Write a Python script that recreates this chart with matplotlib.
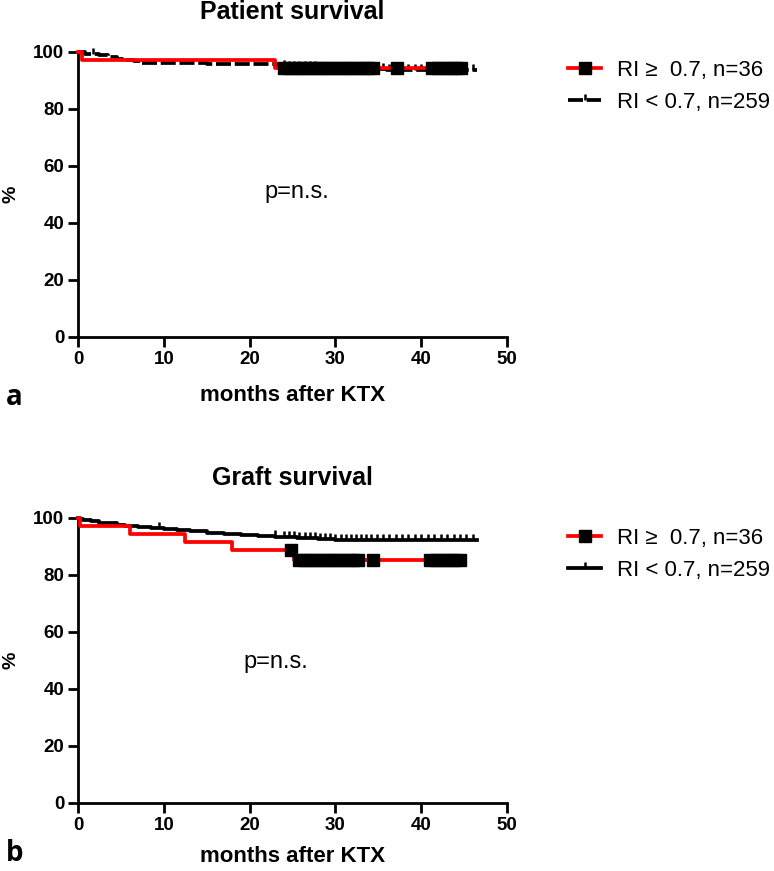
import numpy as np
import matplotlib
matplotlib.use('Agg')
import matplotlib.pyplot as plt
from matplotlib.lines import Line2D

plt.rcParams['font.family'] = ['Liberation Sans', 'DejaVu Sans']

# Kaplan-Meier step curves (months, % surviving)
pat_red_t = [0, 0.5, 23.0, 45.0]
pat_red_s = [100, 97.2, 94.4, 94.4]
pat_red_cens = [24.0, 24.7, 25.4, 26.1, 26.8, 27.5, 28.2, 28.9, 29.6, 30.3, 31.0,
                31.7, 32.4, 33.1, 33.8, 34.4, 37.2, 41.3, 42.0, 42.7, 43.4, 44.1, 44.6]

pat_blk_t = [0, 0.8, 2.5, 3.5, 4.5, 5.5, 6.5, 7.5, 15.0, 23.3, 24.5, 28.0, 36.0, 46.5]
pat_blk_s = [100, 99.2, 98.8, 98.4, 97.7, 97.3, 96.9, 96.1, 95.7, 95.0, 94.6, 94.2, 93.8, 93.8]
pat_blk_cens = [1.8, 24.0, 24.6, 25.2, 25.8, 26.4, 27.0, 27.6, 28.2, 28.8, 29.4, 30.0,
                30.6, 31.2, 31.8, 32.4, 33.0, 33.6, 34.2, 34.8, 35.5, 36.3, 37.0, 37.8,
                38.5, 39.3, 40.0, 40.8, 41.5, 42.3, 43.0, 43.8, 44.5, 45.2, 46.0]

gr_red_t = [0, 0.2, 6.1, 12.5, 17.9, 25.2, 45.0]
gr_red_s = [100, 97.2, 94.4, 91.7, 88.9, 85.4, 85.4]
gr_red_cens = [24.8, 25.8, 26.5, 27.2, 27.9, 28.6, 29.3, 30.0, 30.7, 31.4, 32.1, 32.6,
               34.4, 41.0, 41.7, 42.4, 43.1, 43.8, 44.5]

gr_blk_t = [0, 0.2, 0.6, 1.5, 2.5, 3.5, 4.5, 5.5, 7.0, 8.5, 10.0, 11.5, 13.0, 15.0,
            17.0, 19.0, 21.0, 23.0, 25.5, 28.0, 30.0, 46.5]
gr_blk_s = [100, 99.6, 99.2, 98.8, 98.4, 98.1, 97.7, 97.3, 96.9, 96.5, 96.1, 95.7,
            95.3, 94.9, 94.5, 94.1, 93.7, 93.3, 92.9, 92.6, 92.3, 92.3]
gr_blk_cens = [9.4, 22.9, 24.0, 24.6, 25.2, 25.8, 26.4, 27.0, 27.6, 28.2, 28.8, 29.4,
               30.0, 30.6, 31.2, 31.8, 32.4, 33.0, 33.6, 34.2, 34.8, 35.5, 36.3, 37.0,
               37.8, 38.5, 39.3, 40.0, 40.8, 41.5, 42.3, 43.0, 43.8, 44.5, 45.2, 46.0]

labels = ['RI \u2265  0.7, n=36', 'RI < 0.7, n=259']
titles = ['Patient survival', 'Graft survival']


def level_at(t, s, c):
    idx = np.searchsorted(t, c, side='right') - 1
    return np.array(s)[idx]


fig = plt.figure(figsize=(7.74, 8.71), dpi=100)
ax1 = fig.add_axes([0.1008, 0.6131, 0.5543, 0.3272])
ax2 = fig.add_axes([0.1008, 0.0781, 0.5543, 0.3272])

panels = [
    (ax1, pat_red_t, pat_red_s, pat_red_cens, pat_blk_t, pat_blk_s, pat_blk_cens, (4, 1)),
    (ax2, gr_red_t, gr_red_s, gr_red_cens, gr_blk_t, gr_blk_s, gr_blk_cens, None),
]

lw = 2.7
for i, (ax, rt, rs, rc, bt, bs, bc, dash) in enumerate(panels):
    ls = (0, dash) if dash else '-'
    ax.plot(bt, bs, drawstyle='steps-post', color='black', lw=lw, ls=ls, clip_on=False, zorder=3)
    ax.plot(bc, level_at(bt, bs, bc), ls='none', marker=2, ms=4, mew=1.8,
            color='black', clip_on=False, zorder=3)
    ax.plot(rt, rs, drawstyle='steps-post', color='#ff0000', lw=lw, clip_on=False, zorder=4)
    ax.plot(rc, level_at(rt, rs, rc), ls='none', marker='s', ms=8.6,
            mfc='black', mec='black', clip_on=False, zorder=5)

    ax.set_xlim(0, 50)
    ax.set_ylim(0, 100)
    ax.set_xticks([0, 10, 20, 30, 40, 50])
    ax.set_yticks([0, 20, 40, 60, 80, 100])
    for sp in ['top', 'right']:
        ax.spines[sp].set_visible(False)
    for sp in ['left', 'bottom']:
        ax.spines[sp].set_linewidth(2)
    ax.tick_params(direction='out', length=7, width=2, labelsize=13.5, pad=3)
    for lab in ax.get_xticklabels() + ax.get_yticklabels():
        lab.set_fontweight('bold')
    ax.set_ylabel('%', fontsize=14, fontweight='bold', labelpad=10)
    ax.set_title(titles[i], fontsize=18, fontweight='bold', pad=24)

    h_red = Line2D([], [], color='#ff0000', lw=lw, marker='s', ms=8.6, mfc='black', mec='black')
    h_blk = Line2D([], [], color='black', lw=lw, ls=ls, marker=2, ms=4, mew=1.8)
    top = 0.931 if i == 0 else 0.394
    fig.legend([h_red, h_blk], labels, loc='upper left', bbox_to_anchor=(0.734, top),
               frameon=False, fontsize=16, handlelength=1.5, handletextpad=0.7,
               borderpad=0, borderaxespad=0, labelspacing=0.5, numpoints=1)

ax1.set_xlabel('months after KTX', fontsize=16, fontweight='bold', labelpad=12)
ax2.set_xlabel('months after KTX', fontsize=16, fontweight='bold', labelpad=9)
ax1.text(25.5, 51, 'p=n.s.', fontsize=17, ha='center', va='center')
ax2.text(23.0, 49.5, 'p=n.s.', fontsize=17, ha='center', va='center')
fig.text(0.019, 1 - 397 / 871, 'a', fontsize=20, fontweight='bold',
         family=['Open Sans', 'DejaVu Sans'], ha='center', va='center')
fig.text(0.019, 1 - 853 / 871, 'b', fontsize=20, fontweight='bold',
         family=['Open Sans', 'DejaVu Sans'], ha='center', va='center')

fig.savefig('out.png', dpi=100)
